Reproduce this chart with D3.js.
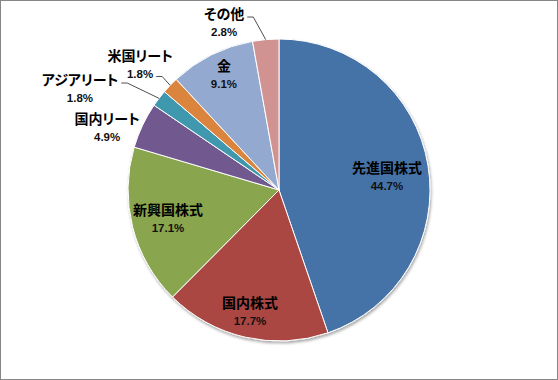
<!DOCTYPE html>
<html><head><meta charset="utf-8">
<script src="https://cdn.jsdelivr.net/npm/d3@7"></script>
<style>
html,body{margin:0;padding:0;background:#fff;}
svg{display:block;}
.name{font-family:"Noto Sans CJK JP","Noto Sans",sans-serif;font-weight:700;font-size:14px;fill:#000;font-feature-settings:"palt";}
.pct{font-family:"Liberation Sans",Arial,sans-serif;font-weight:700;font-size:11.5px;fill:#111;}
</style></head>
<body>
<svg id="chart" width="558" height="380"></svg>
<script>
// ---- data ----
const categories = ["先進国株式","国内株式","新興国株式","国内リート","アジアリート","米国リート","金","その他"];
const values = [44.7, 17.7, 17.1, 4.9, 1.8, 1.8, 9.1, 2.8];
const valueLabels = ["44.7%","17.7%","17.1%","4.9%","1.8%","1.8%","9.1%","2.8%"];
const colors = ["#4572A7","#AA4643","#89A54E","#71588F","#4198AF","#DB843D","#93A9CF","#D19392"];

// ---- label layout (polar: degrees clockwise from top, fraction of radius) ----
const labelAngle = [83.1, 193.4, 255.4, 289.8, 296.9, 312.1, 334.5, 341.8];
const labelRadius = [0.72, 0.83, 0.76, 1.21, 1.478, 1.24, 0.847, 1.164];
const leaderRow = [null, null, null, null, 0, 1, null, 0]; // which text line the leader attaches to

const W = 558, H = 380;
const cx = 279, cy = 190, R = 151;
const svg = d3.select("#chart");

svg.append("rect").attr("x",0.5).attr("y",0.5).attr("width",W-1).attr("height",H-1)
  .attr("fill","#fff").attr("stroke","#868686").attr("stroke-width",1);

const defs = svg.append("defs");
const f = defs.append("filter").attr("id","sh").attr("x","-10%").attr("y","-10%").attr("width","120%").attr("height","120%");
f.append("feGaussianBlur").attr("in","SourceAlpha").attr("stdDeviation",1.5).attr("result","b");
f.append("feOffset").attr("in","b").attr("dx",1).attr("dy",1.5).attr("result","o");
f.append("feComponentTransfer").attr("in","o").attr("result","o2")
  .append("feFuncA").attr("type","linear").attr("slope",0.35);
const m = f.append("feMerge");
m.append("feMergeNode").attr("in","o2");
m.append("feMergeNode").attr("in","SourceGraphic");

const data = categories.map((c,i)=>({name:c, value:values[i], label:valueLabels[i], color:colors[i], i}));
const pie = d3.pie().sort(null).value(d=>d.value).startAngle(0).endAngle(2*Math.PI);
const arcs = pie(data);
const arc = d3.arc().innerRadius(0).outerRadius(R);

const g = svg.append("g").attr("transform",`translate(${cx},${cy})`);
const slices = g.append("g").attr("filter","url(#sh)");
slices.selectAll("path").data(arcs).enter().append("path")
  .attr("d",arc).attr("fill",d=>d.data.color)
  .attr("stroke","#fff").attr("stroke-width",1).attr("stroke-linejoin","round");

const toXY = (deg, r) => {const a = deg*Math.PI/180; return [r*Math.sin(a), -r*Math.cos(a)];};

const lab = g.append("g");
arcs.forEach((d,i)=>{
  const [lx,ly] = toXY(labelAngle[i], labelRadius[i]*R);
  const t = lab.append("g").attr("transform",`translate(${lx},${ly})`);
  const n = t.append("text").attr("class","name").attr("text-anchor","middle").attr("y",-9).attr("dy","0.36em").text(d.data.name);
  const p = t.append("text").attr("class","pct").attr("text-anchor","middle").attr("y",9).attr("dy","0.36em").text(d.data.label);
  if (leaderRow[i] !== null) {
    const node = leaderRow[i]===0 ? n.node() : p.node();
    const w = node.getComputedTextLength();
    const rowY = leaderRow[i]===0 ? -9 : 9;
    const sx = lx + w/2 + 3, sy = ly + rowY + 3;
    const mid = (d.startAngle + d.endAngle)/2 * 180/Math.PI;
    const [ex,ey] = toXY(mid, R);
    lab.append("path")
      .attr("d", d3.line()([[sx,sy],[sx+6,sy],[ex,ey]]))
      .attr("fill","none").attr("stroke","#222").attr("stroke-width",0.8);
  }
});
</script>
</body></html>
